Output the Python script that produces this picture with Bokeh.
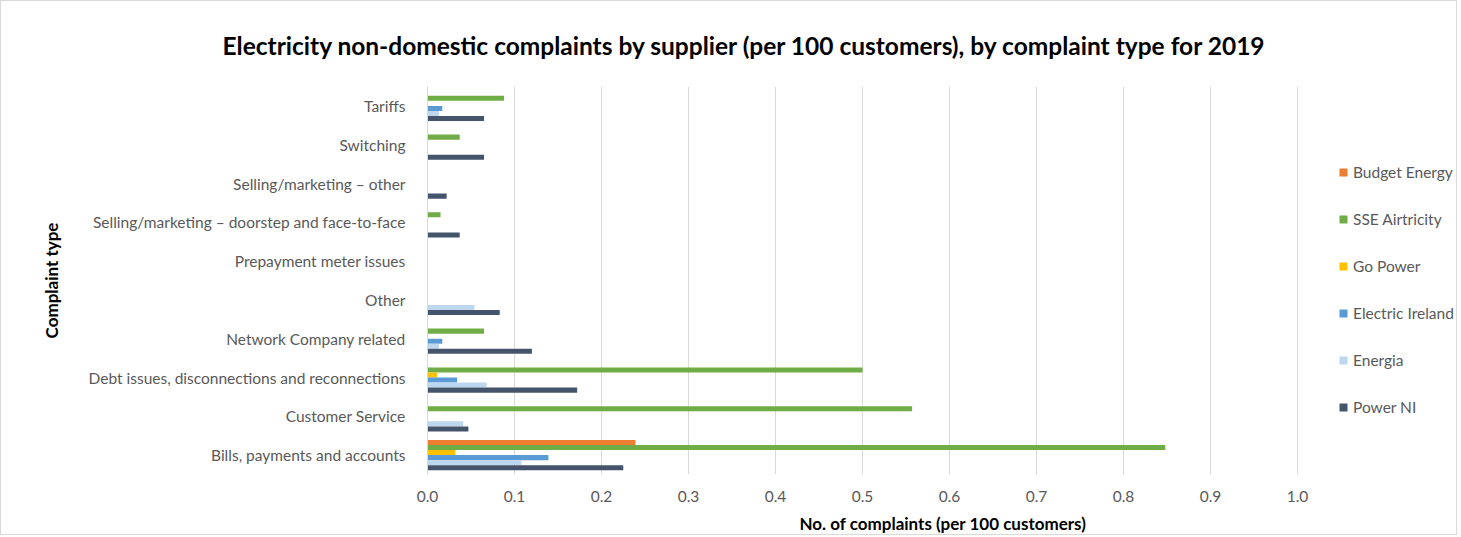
from bokeh.plotting import figure
from bokeh.models import (ColumnDataSource, Range1d, FactorRange, Legend, LegendItem,
                          FixedTicker, NumeralTickFormatter)
from bokeh.transform import dodge
from bokeh.embed import file_html
from bokeh.resources import INLINE

# ---- data (bottom to top) ----
categories = [
    "Bills, payments and accounts",
    "Customer Service",
    "Debt issues, disconnections and reconnections",
    "Network Company related",
    "Other",
    "Prepayment meter issues",
    "Selling/marketing \u2013 doorstep and face-to-face",
    "Selling/marketing \u2013 other",
    "Switching",
    "Tariffs",
]
suppliers = ["Budget Energy", "SSE Airtricity", "Go Power", "Electric Ireland", "Energia", "Power NI"]
budget_energy = [0.239, 0, 0, 0, 0, 0, 0, 0, 0, 0]
sse_airtricity = [0.848, 0.557, 0.500, 0.065, 0, 0, 0.015, 0, 0.037, 0.088]
go_power = [0.032, 0, 0.011, 0, 0, 0, 0, 0, 0, 0]
electric_ireland = [0.139, 0, 0.034, 0.017, 0, 0, 0, 0, 0, 0.017]
energia = [0.108, 0.041, 0.068, 0.013, 0.054, 0, 0, 0, 0, 0.013]
power_ni = [0.225, 0.047, 0.172, 0.120, 0.083, 0, 0.037, 0.022, 0.065, 0.065]
x_ticks = [0.0, 0.1, 0.2, 0.3, 0.4, 0.5, 0.6, 0.7, 0.8, 0.9, 1.0]

colors = ["#ED7D31", "#70AD47", "#FFC000", "#5B9BD5", "#BDD7EE", "#44546A"]
series = [budget_energy, sse_airtricity, go_power, electric_ireland, energia, power_ni]
keys = ["s0", "s1", "s2", "s3", "s4", "s5"]

data = {"cat": categories}
for k, s in zip(keys, series):
    data[k] = s
source = ColumnDataSource(data)

FONT = "Lato"
GRAY = "#595959"

p = figure(width=1457, height=535, y_range=FactorRange(*categories, range_padding=0),
           x_range=Range1d(0, 1.185), output_backend="svg", toolbar_location=None,
           min_border_left=426, min_border_right=0, min_border_top=85, min_border_bottom=58)
p.styles = {"border": "1px solid #D9D9D9"}

bar_h = 0.13
offsets = [0.325, 0.195, 0.065, -0.065, -0.195, -0.325]
renderers = []
for k, off, c in zip(keys, offsets, colors):
    r = p.hbar(y=dodge("cat", off, range=p.y_range), left=0, right=k, height=bar_h,
               source=source, fill_color=c, line_color=None)
    renderers.append(r)

# title
p.title.text = "Electricity non-domestic complaints by supplier (per 100 customers), by complaint type for 2019"
p.title.text_font = FONT
p.title.text_font_size = "24.5px"
p.title.text_font_style = "bold"
p.title.text_color = "#000000"
p.title.align = "left"
p.title.offset = -205
p.title.vertical_align = "top"
p.title.standoff = 50

# axes
xa = p.xaxis[0]
xa.ticker = FixedTicker(ticks=x_ticks)
xa.formatter = NumeralTickFormatter(format="0.0")
xa.axis_line_color = None
xa.major_tick_line_color = None
xa.minor_tick_line_color = None
xa.major_label_text_font = FONT
xa.major_label_text_font_size = "15.5px"
xa.major_label_text_color = GRAY
xa.major_label_standoff = 10
xa.axis_label = "No. of complaints (per 100 customers)"
xa.axis_label_text_font = FONT
xa.axis_label_text_font_size = "17px"
xa.axis_label_text_font_style = "bold"
xa.axis_label_text_color = "#000000"
xa.axis_label_standoff = 8

ya = p.yaxis[0]
ya.axis_line_color = "#D9D9D9"
ya.major_tick_line_color = None
ya.minor_tick_line_color = None
ya.major_label_text_font = FONT
ya.major_label_text_font_size = "15.5px"
ya.major_label_text_color = GRAY
ya.major_label_standoff = 16
ya.axis_label = "Complaint type"
ya.axis_label_text_font = FONT
ya.axis_label_text_font_size = "17px"
ya.axis_label_text_font_style = "bold"
ya.axis_label_text_color = "#000000"
ya.axis_label_standoff = 24

p.xgrid.grid_line_color = "#D9D9D9"
p.ygrid.grid_line_color = None
p.outline_line_color = None

items = [LegendItem(label=s, renderers=[r]) for s, r in zip(suppliers, renderers)]
legend = Legend(items=items, location=(911, 58), orientation="vertical")
legend.border_line_color = None
legend.background_fill_alpha = 0
legend.padding = 0
legend.margin = 0
legend.glyph_width = 10
legend.glyph_height = 10
legend.label_height = 10
legend.spacing = 29
legend.label_standoff = 5
legend.label_text_font = FONT
legend.label_text_font_size = "15.5px"
legend.label_text_color = GRAY
p.add_layout(legend)

open("out.html", "w").write(file_html(p, INLINE))
